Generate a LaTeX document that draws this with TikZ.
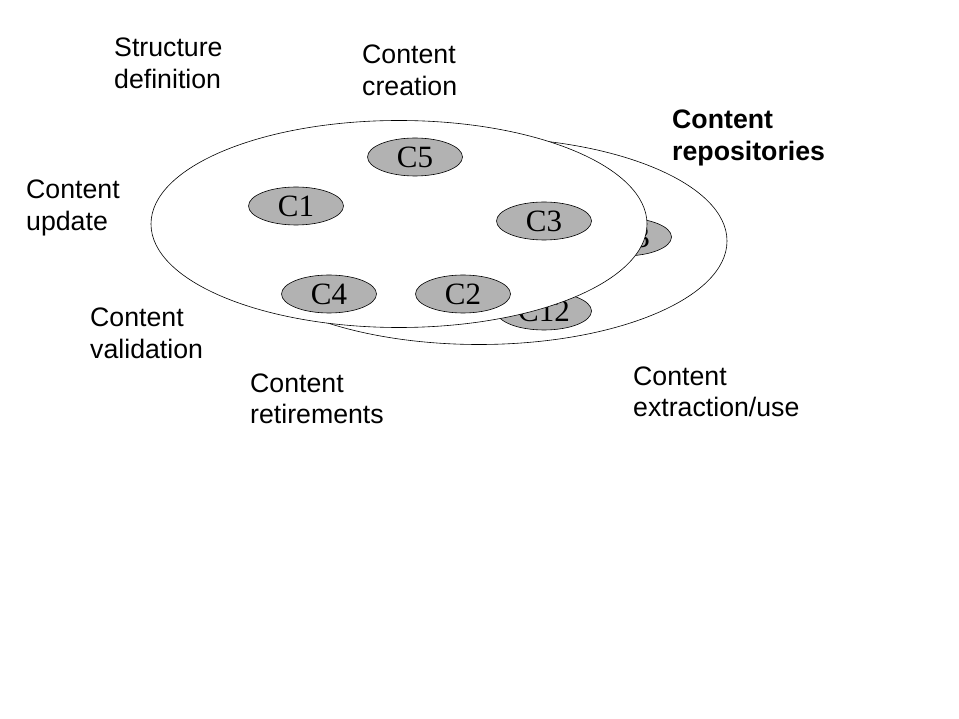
\documentclass[tikz,border=0pt]{standalone}
\usepackage{fontspec}
\setmainfont{Liberation Serif}
\newfontfamily\arialfont{Liberation Sans}
\usetikzlibrary{shapes.geometric}
\tikzset{
  bigell/.style={draw=black, line width=0.6pt, fill=white, ellipse, inner sep=0pt,
    minimum width=496pt, minimum height=207pt},
  cell/.style={draw=black, line width=0.6pt, fill=cgray, ellipse, inner sep=0pt,
    minimum width=95pt, minimum height=38pt,
    font=\fontsize{31}{34}\selectfont},
  lbl/.style={anchor=base west, inner sep=0pt, align=left,
    font=\arialfont\fontsize{26.7}{32}\selectfont},
  blbl/.style={lbl, font=\arialfont\bfseries\fontsize{26.7}{32}\selectfont}
}
\definecolor{cgray}{RGB}{178,178,178}
\begin{document}
\begin{tikzpicture}[x=1pt,y=-1pt]
\useasboundingbox[fill=white] (0,0) rectangle (959,719);
% back repository
\node[bigell] (back) at (479,241) {};
\node[cell] (c13) at (624,237) {C13};
\node[cell] (c12) at (544,311) {C12};
% front repository
\node[bigell] (front) at (399,224) {};
\node[cell] (c5) at (415,157) {C5};
\node[cell] (c1) at (296,206) {C1};
\node[cell] (c3) at (544,221) {C3};
\node[cell] (c4) at (329,294) {C4};
\node[cell] (c2) at (463,294) {C2};
% labels (base = last line baseline)
\node[lbl] (lstruct) at (114,89) {Structure\\definition};
\node[lbl] (lcreate) at (362,96) {Content\\creation};
\node[blbl] (lrepo) at (672,161) {Content\\repositories};
\node[lbl] (lupdate) at (26,231) {Content\\update};
\node[lbl] (lvalid) at (90,359) {Content\\validation};
\node[lbl] (lretire) at (250,424) {Content\\retirements};
\node[lbl] (lextract) at (633,417) {Content\\extraction/use};
\end{tikzpicture}
\end{document}
